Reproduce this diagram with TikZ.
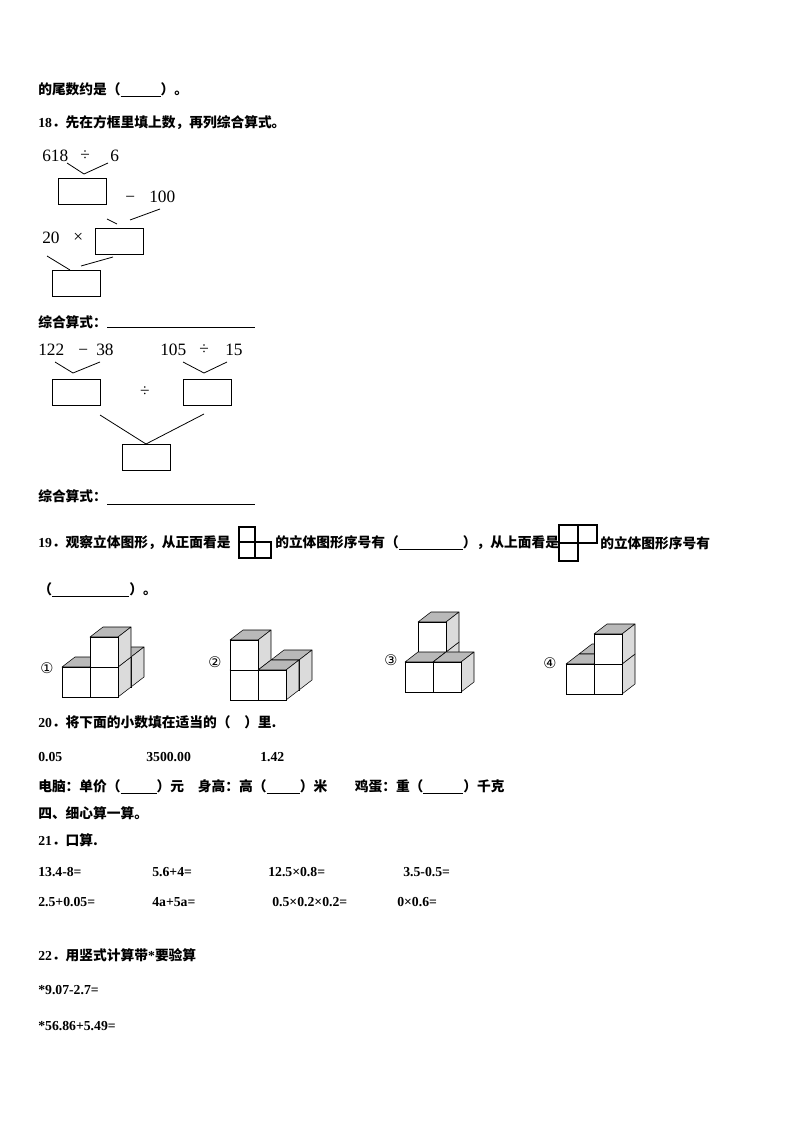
\documentclass[tikz,border=0pt]{standalone}
\usepackage{fontspec}
\setmainfont{Liberation Serif}
\newfontfamily\cjk{Noto Sans CJK SC}
\newfontfamily\dvs{DejaVu Sans}
\newcommand\ck[1]{{\cjk\bfseries #1}}
\newcommand\blank[1]{\underline{\hspace{#1}}}
\newcommand\cb[5]{%
 \pgfmathsetmacro\cx{#1+#3*28+#4*13}\pgfmathsetmacro\cy{#2-#5*30-#4*10}%
 \draw[fill=gray!55,line join=round] (\cx,\cy-30)--(\cx+13,\cy-40)--(\cx+41,\cy-40)--(\cx+28,\cy-30)--cycle;
 \draw[fill=gray!28,line join=round] (\cx+28,\cy)--(\cx+41,\cy-10)--(\cx+41,\cy-40)--(\cx+28,\cy-30)--cycle;
 \draw[fill=white] (\cx,\cy) rectangle (\cx+28,\cy-30);}
\begin{document}
\begin{tikzpicture}[x=0.75pt,y=-0.75pt,font=\fontsize{10.3}{12}\selectfont\bfseries,
  t/.style={anchor=west,inner sep=0pt},
  m/.style={inner sep=0pt,anchor=west,font=\fontsize{13}{15}\selectfont},
  cn/.style={font=\dvs\fontsize{11}{12}\selectfont},
  bx/.style={draw,minimum width=36pt,minimum height=19.5pt,inner sep=0pt},
  ln/.style={line width=0.6pt}]
\useasboundingbox (0,0) rectangle (794,1123);
\node[t] (l0) at (38,90) {\ck{的尾数约是（}\blank{30pt}\ck{）。}};
\node[t] (l18) at (38,123) {18\ck{．先在方框里填上数，再列综合算式。}};
% diagram 1
\node[m] (a1) at (42,156) {618};
\node[m] (a1b) at (80,156) {÷};
\node[m] (a1c) at (110,156) {6};
\node[bx,anchor=north west] (b1) at (58,178) {};
\node[m] (a2) at (125,199) {−};
\node[m] (a2b) at (149,197) {100};
\node[bx,anchor=north west] (b2) at (95,228) {};
\node[m] (a3) at (42,238) {20};
\node[m] (a3b) at (73,238) {×};
\node[bx,anchor=north west] (b3) at (52,270) {};
\draw[ln] (67,163)--(84,174)--(108,163);
\draw[ln] (107,219)--(117,224) (130,220)--(160,209);
\draw[ln] (47,256)--(70,270) (81,266)--(113,257);
\node[t] (z1) at (38,322) {\ck{综合算式：}};
\draw[ln] (107,327)--(255,327);
% diagram 2
\node[m] (c1) at (38,350) {122};
\node[m] (c1b) at (78,352) {−};
\node[m] (c1c) at (96,350) {38};
\node[m] (c2) at (160,350) {105};
\node[m] (c2b) at (199,350) {÷};
\node[m] (c2c) at (225,350) {15};
\node[bx,anchor=north west] (d1) at (52,379) {};
\node[m,anchor=center] (dv) at (145,392) {÷};
\node[bx,anchor=north west] (d2) at (183,379) {};
\node[bx,anchor=north west] (d3) at (122,444) {};
\draw[ln] (55,362)--(73,373)--(100,362) (183,362)--(204,373)--(227,362);
\draw[ln] (100,415)--(146,444)--(204,414);
\node[t] (z2) at (38,496) {\ck{综合算式：}};
\draw[ln] (107,504)--(255,504);
% Q19
\node[t] (q19a) at (38,543) {19\ck{．观察立体图形，从正面看是}};
\draw[line width=1pt] (239,527) rectangle (255,542) (239,542) rectangle (255,558) (255,542) rectangle (271,558);
\node[t] (q19b) at (275,543) {\ck{的立体图形序号有（}\blank{48pt}\ck{），从上面看是}};
\draw[line width=1pt] (559,525) rectangle (578,543) (578,525) rectangle (597,543) (559,543) rectangle (578,561);
\node[t] (q19c) at (600,543) {\ck{的立体图形序号有}};
\node[t] (q19d) at (38,590) {\ck{（}\blank{58pt}\ck{）。}};
% cubes
\node[cn] (n1) at (47,668) {①};
\cb{62}{697}{1}{1}{0}\cb{62}{697}{0}{0}{0}\cb{62}{697}{1}{0}{0}\cb{62}{697}{1}{0}{1}
\node[cn] (n2) at (215,662) {②};
\cb{230}{700}{1}{1}{0}\cb{230}{700}{0}{0}{0}\cb{230}{700}{0}{0}{1}\cb{230}{700}{1}{0}{0}
\node[cn] (n3) at (391,660) {③};
\cb{405}{692}{0}{1}{0}\cb{405}{692}{0}{1}{1}\cb{405}{692}{0}{0}{0}\cb{405}{692}{1}{0}{0}
\node[cn] (n4) at (550,663) {④};
\cb{566}{694}{0}{1}{0}\cb{566}{694}{0}{0}{0}\cb{566}{694}{1}{0}{0}\cb{566}{694}{1}{0}{1}
% Q20
\node[t] (q20) at (38,722) {20\ck{．将下面的小数填在适当的（\quad ）里.}};
\node[t] (v1) at (38,757) {0.05};
\node[t] (v2) at (146,757) {3500.00};
\node[t] (v3) at (260,757) {1.42};
\node[t] (q20b) at (38,787) {\ck{电脑：单价（}\blank{27pt}\ck{）元\quad 身高：高（}\blank{25pt}\ck{）米\qquad 鸡蛋：重（}\blank{30pt}\ck{）千克}};
\node[t] (s4) at (38,813) {\ck{四、细心算一算。}};
\node[t] (q21) at (38,840) {21\ck{．口算.}};
\node[t] (e1) at (38,872) {13.4-8=};
\node[t] (e2) at (152,872) {5.6+4=};
\node[t] (e3) at (268,872) {12.5×0.8=};
\node[t] (e4) at (403,872) {3.5-0.5=};
\node[t] (e5) at (38,902) {2.5+0.05=};
\node[t] (e6) at (152,902) {4a+5a=};
\node[t] (e7) at (272,902) {0.5×0.2×0.2=};
\node[t] (e8) at (397,902) {0×0.6=};
\node[t] (q22) at (38,955) {22\ck{．用竖式计算带}*\ck{要验算}};
\node[t] (f1) at (38,990) {*9.07-2.7=};
\node[t] (f2) at (38,1026) {*56.86+5.49=};
\end{tikzpicture}
\end{document}
